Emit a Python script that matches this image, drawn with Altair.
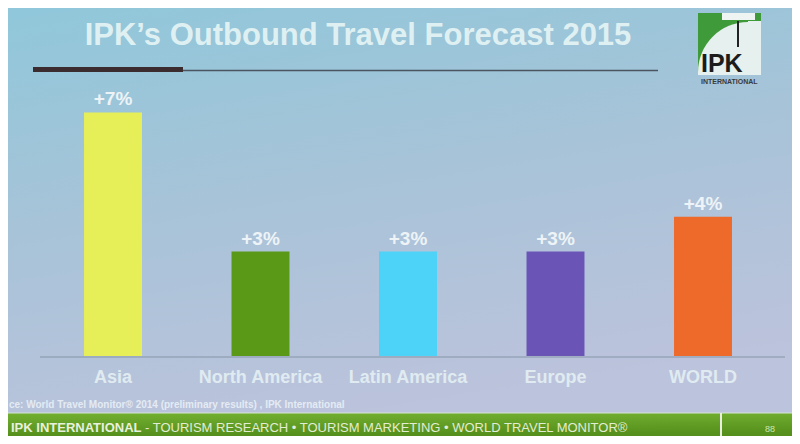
import altair as alt
import pandas as pd

# ---------------- data ----------------
categories = ["Asia", "North America", "Latin America", "Europe", "WORLD"]
growth = [7, 3, 3, 3, 4]
value_labels = ["+7%", "+3%", "+3%", "+3%", "+4%"]

title_text = "IPK’s Outbound Travel Forecast 2015"
source_text = "ce: World Travel Monitor® 2014 (preliminary results) , IPK International"
footer_bold = "IPK INTERNATIONAL"
footer_rest = "- TOURISM RESEARCH • TOURISM MARKETING • WORLD TRAVEL MONITOR®"
page_number = "88"
logo_big = "IPK"
logo_small = "INTERNATIONAL"

palette = ["#e6ef58", "#5a9918", "#4dd3f7", "#6a55b7", "#ee6a2a"]

# ---------------- layout ----------------
W, H = 784, 428
O = 8  # page margin


def px(v):
    return v - O


one = pd.DataFrame({"d": [0]})
FONT = "Liberation Sans"


def rect(x0, x1, y0, y1, color, **kw):
    return alt.Chart(one).mark_rect(color=color, **kw).encode(
        x=alt.value(px(x0)), x2=alt.value(px(x1)),
        y=alt.value(px(y0)), y2=alt.value(px(y1)))


def rule(x0, x1, y0, y1, color, width=1, **kw):
    return alt.Chart(one).mark_rule(color=color, strokeWidth=width, **kw).encode(
        x=alt.value(px(x0)), x2=alt.value(px(x1)),
        y=alt.value(px(y0)), y2=alt.value(px(y1)))


def text(s, x, y, size, color, weight="normal", align="left"):
    return alt.Chart(one).mark_text(
        text=s, align=align, baseline="alphabetic", fontSize=size,
        fontWeight=weight, color=color, font=FONT).encode(
        x=alt.value(px(x)), y=alt.value(px(y)))


def grad(stops, x2=0, y2=1):
    return {"gradient": "linear", "x1": 0, "y1": 0, "x2": x2, "y2": y2,
            "stops": [{"offset": o, "color": c} for o, c in stops]}


bg = rect(O, O + W, O, O + H,
          grad([(0, "#90c7da"), (0.5, "#a8c3d8"), (1, "#bcc3dc")], x2=0.3, y2=1))

footer = rect(O, O + W, 413, O + H,
              grad([(0, "#72b030"), (1, "#558f1c")], x2=0.1, y2=1))
footer_line = rule(O, O + W, 413, 413, "#d6e3d8", 1)
divider = rule(721, 721, 413, O + H, "#e8efe0", 2)

# title + underline
title = text(title_text, 358, 45, 31, "#dff0f2", "bold", "center")
thick = rect(33, 183, 67, 72, "#3b2c30")
thin = rule(183, 658, 70.5, 70.5, "#4a5560", 1.5)

# logo
logo_sq = rect(698, 761, 13, 75, "#e6f0ee")
logo_green = rect(698, 761, 13, 72, "#3f9a3a")
logo_arc = alt.Chart(one).mark_arc(radius=50, theta=4.712, theta2=6.2832,
                                   color="#e6f0ee").encode(
    x=alt.value(px(748)), y=alt.value(px(72)))
logo_white_r = rect(748, 761, 21, 72, "#e6f0ee")
logo_t = rect(722, 755, 13, 20, "#eef4f2")
logo_stem = rule(738, 738, 21, 47, "#222222", 2)
logo_txt = text(logo_big, 701, 72, 25, "#1c1c1c", "bold")
logo_txt2 = text(logo_small, 701, 84, 7, "#3a3a3a", "bold")

# baseline
baseline = rule(40, 785, 357, 357, "#8595a6", 1)

# bars
df = pd.DataFrame({"category": categories, "growth": growth, "label": value_labels})
base = alt.Chart(df)
xenc = alt.X("category:N", sort=categories, axis=None,
             scale=alt.Scale(domain=categories, range=[px(39.25), px(776.75)],
                             paddingInner=0.607, paddingOuter=0.3035))
yenc = alt.Y("growth:Q", axis=None,
             scale=alt.Scale(domain=[0, 7], range=[px(356), px(356 - 243.6)], nice=False))

bars = base.mark_bar().encode(
    x=xenc, y=yenc,
    color=alt.Color("category:N", scale=alt.Scale(domain=categories, range=palette), legend=None))

vals = base.mark_text(dy=-7, baseline="alphabetic", fontSize=19, fontWeight="bold",
                      color="#edf3f6", font=FONT).encode(x=xenc, y=yenc, text="label:N")

cats = base.mark_text(baseline="alphabetic", fontSize=18, fontWeight="bold",
                      color="#e0ebf1", font=FONT).encode(
    x=xenc, y=alt.value(px(383)), text="category:N")

# source & footer texts
source = text(source_text, 9, 408, 10, "#e4ebf3", "bold")
f1 = text(footer_bold, 11, 432, 13, "#e9f0de", "bold")
f2 = text(footer_rest, 145, 432, 13, "#e3ecd5", "normal")
pg = text(page_number, 765, 432, 9, "#cfe6b0", "normal")

chart = alt.layer(
    bg, footer, footer_line, divider,
    title, thick, thin,
    logo_sq, logo_green, logo_arc, logo_white_r, logo_t, logo_stem, logo_txt, logo_txt2,
    baseline, bars, vals, cats, source, f1, f2, pg,
).properties(
    width=W, height=H,
    autosize=alt.AutoSizeParams(type="none"),
    padding=0,
).configure_view(stroke=None)

chart.save("out.html", embed_options={"renderer": "svg", "actions": False})
